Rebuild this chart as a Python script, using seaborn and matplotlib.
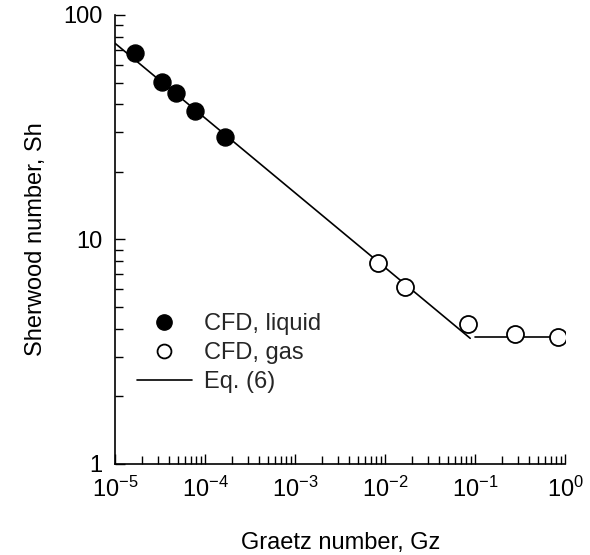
import numpy as np
import pandas as pd
import matplotlib
matplotlib.use("Agg")
import matplotlib.pyplot as plt
from matplotlib.lines import Line2D
from matplotlib.ticker import LogLocator, NullFormatter, FixedLocator
import seaborn as sns

# CFD results
gz_liquid = [1.67e-5, 3.3e-5, 4.7e-5, 7.7e-5, 1.66e-4]
sh_liquid = [67.5, 50.5, 44.8, 37.5, 28.5]

gz_gas = [8.4e-3, 1.67e-2, 8.4e-2, 0.278, 0.83]
sh_gas = [7.83, 6.17, 4.2, 3.80, 3.69]

# Eq. (6): two straight segments in log-log
gz_eq_a = [1e-5, 0.088]
sh_eq_a = [74.8, 3.63]
gz_eq_b = [0.1, 1.0]
sh_eq_b = [3.66, 3.66]

y_ticks = [1, 10, 100]
x_ticks = [1e-5, 1e-4, 1e-3, 1e-2, 1e-1, 1e0]
x_ticklabels = [r"$10^{-5}$", r"$10^{-4}$", r"$10^{-3}$", r"$10^{-2}$", r"$10^{-1}$", r"$10^{0}$"]

sns.set_theme(style="ticks")
plt.rcParams["font.family"] = ["Liberation Sans", "DejaVu Sans"]
plt.rcParams["mathtext.default"] = "regular"

fig = plt.figure(figsize=(5.9, 5.55), dpi=100)
ax = fig.add_axes([0.195, 0.164, 0.763, 0.809])

df_liq = pd.DataFrame({"gz": gz_liquid, "sh": sh_liquid})
df_gas = pd.DataFrame({"gz": gz_gas, "sh": sh_gas})

sns.lineplot(x=gz_eq_a, y=sh_eq_a, ax=ax, color="black", linewidth=1.2, sort=False)
sns.lineplot(x=gz_eq_b, y=sh_eq_b, ax=ax, color="black", linewidth=1.2, sort=False)
sns.scatterplot(data=df_liq, x="gz", y="sh", ax=ax, s=150, color="black",
                edgecolor="black", linewidth=1.0, zorder=3)
sns.scatterplot(data=df_gas, x="gz", y="sh", ax=ax, s=150, facecolor="white",
                edgecolor="black", linewidth=1.3, zorder=3)

ax.set_xscale("log")
ax.set_yscale("log")
ax.set_xlim(1e-5, 1e0)
ax.set_ylim(1, 100)

ax.xaxis.set_major_locator(FixedLocator(x_ticks))
ax.set_xticklabels(x_ticklabels)
ax.xaxis.set_minor_locator(LogLocator(base=10, subs=np.arange(2, 10), numticks=20))
ax.xaxis.set_minor_formatter(NullFormatter())
ax.yaxis.set_major_locator(FixedLocator(y_ticks))
ax.set_yticklabels([str(v) for v in y_ticks])
ax.yaxis.set_minor_locator(LogLocator(base=10, subs=np.arange(2, 10), numticks=20))
ax.yaxis.set_minor_formatter(NullFormatter())

ax.tick_params(which="both", direction="in", color="black", width=1.0,
               labelsize=17, labelcolor="black")
ax.tick_params(which="major", length=7, pad=9)
ax.tick_params(which="minor", length=6)

for side in ["top", "right"]:
    ax.spines[side].set_visible(False)
for side in ["left", "bottom"]:
    ax.spines[side].set_color("black")
    ax.spines[side].set_linewidth(1.2)

ax.set_xlabel("Graetz number, Gz", fontsize=17, color="black", labelpad=22)
ax.set_ylabel("Sherwood number, Sh", fontsize=17, color="black", labelpad=12)

handles = [
    Line2D([], [], marker="o", linestyle="none", markersize=11,
           markerfacecolor="black", markeredgecolor="black"),
    Line2D([], [], marker="o", linestyle="none", markersize=10,
           markerfacecolor="white", markeredgecolor="black", markeredgewidth=1.3),
    Line2D([], [], color="black", linewidth=1.2),
]
ax.legend(handles, ["CFD, liquid", "CFD, gas", "Eq. (6)"], loc="lower left",
          bbox_to_anchor=(0.002, 0.110), frameon=False, fontsize=17,
          handlelength=2.3, handletextpad=0.55, labelspacing=0.3)

fig.savefig("out.png", dpi=100)
